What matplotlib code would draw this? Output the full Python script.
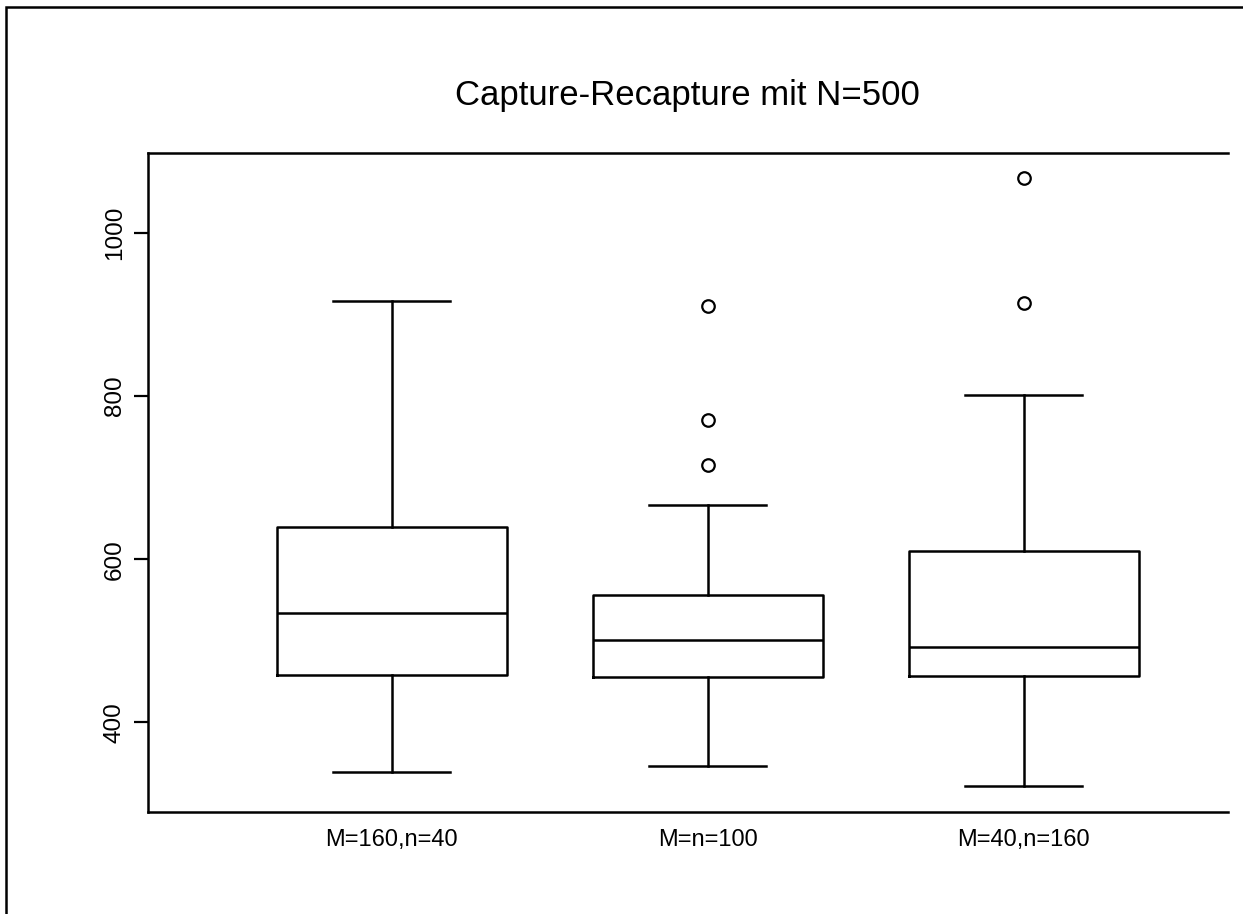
import matplotlib.pyplot as plt
from matplotlib.patches import Rectangle

plt.rcParams['font.family'] = ['Liberation Sans', 'DejaVu Sans']

labels = ['M=160,n=40', 'M=n=100', 'M=40,n=160']
whis_lo = [339, 346, 322]
q1 = [458, 456, 457]
med = [534, 501, 492]
q3 = [640, 556, 610]
whis_hi = [916, 667, 801]
fliers = [[], [910, 771, 715], [1067, 914]]

W, H = 1243, 914
fig = plt.figure(figsize=(W / 100, H / 100), dpi=100)
ax = fig.add_axes([148 / W, 1 - 812 / H, (1228 - 148) / W, (812 - 153) / H])

stats = []
for i in range(len(labels)):
    stats.append(dict(label=labels[i], whislo=whis_lo[i], q1=q1[i], med=med[i],
                      q3=q3[i], whishi=whis_hi[i], fliers=fliers[i]))

lw = 1.8
ax.bxp(stats, positions=[1, 2, 3], widths=0.73, capwidths=0.37,
       boxprops=dict(color='black', linewidth=lw),
       medianprops=dict(color='black', linewidth=lw),
       whiskerprops=dict(color='black', linewidth=lw, linestyle='-'),
       capprops=dict(color='black', linewidth=lw),
       flierprops=dict(marker='o', markerfacecolor='none', markeredgecolor='black',
                       markersize=9, markeredgewidth=1.6))

ax.set_xlim(0.228, 3.646)
ax.set_ylim(290, 1098)
ax.set_yticks([400, 600, 800, 1000])
ax.spines['right'].set_visible(False)
for s in ['left', 'top', 'bottom']:
    ax.spines[s].set_linewidth(1.8)

ax.tick_params(axis='x', length=0, pad=12, labelsize=17)
ax.tick_params(axis='y', length=10, width=1.6, pad=6, labelsize=17.5)
for t in ax.get_yticklabels():
    t.set_rotation(90)
    t.set_va('center')

fig.text(687 / W, 1 - 95 / H, 'Capture-Recapture mit N=500', ha='center', va='center', fontsize=25)

# outer frame of the scanned page
fig.patches.append(Rectangle((6 / W, -0.1), 1.2, 1 - 7 / H + 0.1, transform=fig.transFigure,
                             fill=False, edgecolor='black', linewidth=1.8))

fig.savefig('out.png', dpi=100)
